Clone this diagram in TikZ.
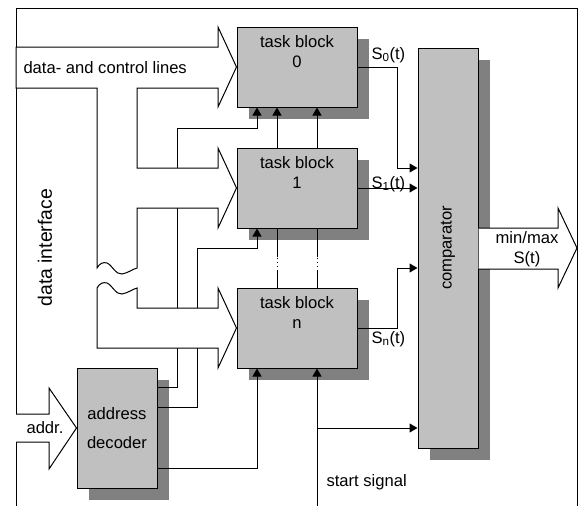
\documentclass[tikz,border=0pt]{standalone}
\usepackage{fontspec}
\setmainfont{Liberation Sans}
\usetikzlibrary{arrows.meta,calc,positioning,shadows}
\definecolor{boxgrey}{RGB}{192,192,192}
\definecolor{shadegrey}{RGB}{128,128,128}
\tikzset{
	unit/.style={draw, fill=boxgrey,
		general shadow={fill=shadegrey, shadow xshift=12pt, shadow yshift=-12pt}},
	task/.style={unit, minimum width=120pt, minimum height=80pt, inner sep=0pt},
	tasklbl/.style={anchor=north, align=center, inner sep=0pt, yshift=-8pt},
	sig/.style={-{Triangle[length=8pt,width=9pt]}},
	bus/.style={draw, fill=white},
	txt/.style={inner sep=0pt}
}
\begin{document}
\begin{tikzpicture}[x=1pt,y=-1pt,line width=1pt,font=\fontsize{16.6}{20}\selectfont]
		\useasboundingbox (0,0) rectangle (579,506);
		\draw (16,506) -- (16,8) -- (577.5,8) -- (577.5,506);
		\node[task, label={[tasklbl]north:task block\\0}] (tb0) at (297,67) {};
		\node[task, label={[tasklbl]north:task block\\1}] (tb1) at (297,188) {};
		\node[task, label={[tasklbl]north:task block\\n}] (tbn) at (297,328) {};
		\node[unit, minimum width=60pt, minimum height=400pt,
			label={[rotate=90]center:comparator}] (comp) at (448,248) {};
		\node[unit, minimum width=80pt, minimum height=120pt, align=center,
			font=\fontsize{16.6}{28.7}\selectfont] (dec) at (117,428) {address\\decoder};
		\draw[sig] ($(dec.north east)+(0,20)$) -| (177,128) -| ($(tb0.south)+(-40,0)$);
		\draw[sig] ($(dec.north east)+(0,40)$) -| (197,248) -| ($(tb1.south)+(-40,0)$);
		\draw[sig] ($(dec.south east)+(0,-20)$) -| ($(tbn.south)+(-40,0)$);
		\foreach \dx in {-20,20}{
			\draw[sig] ($(tb1.north)+(\dx,0)$) -- ($(tb0.south)+(\dx,0)$);
			\draw ($(tb1.south)+(\dx,0)$) -- ++(0,28);
			\draw[dash pattern=on 1pt off 3pt] ($(tb1.south)+(\dx,29)$) -- ++(0,12);
			\draw ($(tbn.north)+(\dx,0)$) -- ++(0,-18);
		}
		\coordinate (start) at (317,506);
		\draw[sig] (start) -- (start |- tbn.south);
		\draw[sig] (start |- dec.east) -- (comp.west |- dec.east);
		\draw[sig] (tb0.east) -| ($(tb1.east)+(40,-20)$) -- ($(comp.west |- tb1.east)+(0,-20)$);
		\draw[sig] (tb1.east) -- (comp.west |- tb1.east);
		\draw[sig] (tbn.east) -| ($(tbn.east)+(40,-60)$) -- ($(comp.west |- tbn.east)+(0,-60)$);
		\path[bus] (97,268) .. controls (100,263) and (103,262) .. (107,263)
			.. controls (112,265) and (116,275) .. (122,274)
			.. controls (128,273) and (133,269) .. (137,268)
			-- (137,208) -- (218,208) -- (218,228) -- (tb1.west) -- (218,148) -- (218,168)
			-- (137,168) -- (137,88) -- (218,88) -- (218,107) -- (tb0.west) -- (218,27)
			-- (218,47) -- (16,47) -- (16,88) -- (97,88) -- cycle;
		\path[bus] (97,288) .. controls (100,283) and (103,282) .. (107,283)
			.. controls (112,285) and (116,295) .. (122,294)
			.. controls (128,293) and (133,289) .. (137,288)
			-- (137,308) -- (218,308) -- (218,288) -- (tbn.west) -- (218,368)
			-- (218,348) -- (97,348) -- cycle;
		\path[bus] (16,414) -- (49,414) -- (49,388) -- (dec.west) -- (49,469) -- (49,442) -- (16,442);
		\path[bus] (478.5,228) -- (558,228) -- (558,208) -- (577,248) -- (558,288) -- (558,269) -- (478.5,269);
		\node[txt, anchor=base west] (busname) at (23,73) {data- and control lines};
		\node[txt, anchor=base west, rotate=90, font=\fontsize{19.4}{23}\selectfont] (ifname) at (52,307) {data interface};
		\node[txt] (addrname) at (45,428) {addr.};
		\node[txt, align=center] (outname) at (527,249) {min/max\\S(t)};
		\node[txt, anchor=base west] (startname) at (326,486) {start signal};
		\node[txt, anchor=base west] (s0) at (371,59) {S\textsubscript{0}(t)};
		\node[txt, anchor=base west] (s1) at (371,188) {S\textsubscript{1}(t)};
		\node[txt, anchor=base west] (sn) at (371,343) {S\textsubscript{n}(t)};
	\end{tikzpicture}
\end{document}
